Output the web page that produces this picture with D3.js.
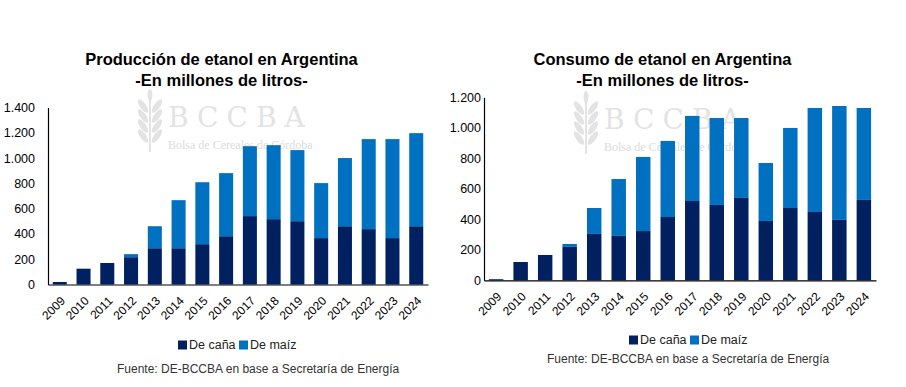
<!DOCTYPE html>
<html>
<head>
<meta charset="utf-8">
<script src="https://cdn.jsdelivr.net/npm/d3@7/dist/d3.min.js"></script>
<style>
  body { margin: 0; background: #fff; }
  svg { display: block; font-family: "Liberation Sans", Arial, sans-serif; }
</style>
</head>
<body>
<div id="chart"></div>
<script>
// datos (millones de litros)
var years = ['2009','2010','2011','2012','2013','2014','2015','2016','2017','2018','2019','2020','2021','2022','2023','2024'];
var prodCana = [20, 125, 170, 216, 287, 287, 319, 382, 541, 517, 501, 367, 461, 438, 367, 461];
var prodMaiz = [0, 0, 0, 24, 174, 380, 490, 499, 553, 585, 562, 435, 539, 712, 783, 736];
var consCana = [7, 120, 166, 219, 304, 291, 323, 415, 520, 494, 540, 389, 474, 448, 396, 527];
var consMaiz = [0, 0, 0, 19, 170, 373, 486, 499, 558, 570, 524, 380, 525, 682, 747, 603];
var prodTicks = [0, 200, 400, 600, 800, 1000, 1200, 1400];
var consTicks = [0, 200, 400, 600, 800, 1000, 1200];
var seriesNames = ['De caña', 'De maíz'];
var colors = ['#002060', '#0070C0'];

var width = 906, height = 387;
var svg = d3.select('#chart').append('svg').attr('width', width).attr('height', height);

var locale = d3.formatLocale({decimal: ',', thousands: '.', grouping: [3], currency: ['$', '']});
var fmt = locale.format(',d');

// marca de agua BCCBA
function watermark(g, x, y) {
  var wm = g.append('g').attr('transform', 'translate(' + x + ',' + y + ')').attr('fill', '#e3e3e3');
  wm.append('line').attr('x1', 14).attr('y1', 60).attr('x2', 14).attr('y2', 4)
    .attr('stroke', '#e3e3e3').attr('stroke-width', 2);
  [8, 18, 28, 38].forEach(function(dy) {
    wm.append('ellipse').attr('cx', 7).attr('cy', dy + 6).attr('rx', 3).attr('ry', 8)
      .attr('transform', 'rotate(-35,7,' + (dy + 6) + ')');
    wm.append('ellipse').attr('cx', 21).attr('cy', dy + 6).attr('rx', 3).attr('ry', 8)
      .attr('transform', 'rotate(35,21,' + (dy + 6) + ')');
  });
  wm.append('ellipse').attr('cx', 14).attr('cy', 3).attr('rx', 2.5).attr('ry', 6);
  wm.append('text').attr('x', 32).attr('y', 35).attr('font-family', '"DejaVu Serif", "Liberation Serif", serif')
    .attr('font-size', 28).attr('letter-spacing', 8).text('BCCBA');
  wm.append('text').attr('x', 32).attr('y', 57).attr('font-family', '"Liberation Serif", serif')
    .attr('font-size', 12).attr('fill', '#dcdcdc').text('Bolsa de Cereales de Córdoba');
}

function drawChart(o) {
  var g = svg.append('g');
  watermark(g, o.wmX, o.wmY);

  var x = d3.scaleBand().domain(years).range(o.xRange).paddingInner(0.41).paddingOuter(0.2);
  var y = d3.scaleLinear().domain([0, o.ticks[o.ticks.length - 1]]).range(o.yRange);

  var rows = years.map(function(yr, i) {
    return {year: yr, cana: o.cana[i], maiz: o.maiz[i]};
  });
  var stacked = d3.stack().keys(['cana', 'maiz'])(rows);

  g.selectAll('g.serie')
    .data(stacked)
    .enter()
    .append('g')
    .attr('fill', function(d, i) { return colors[i]; })
    .selectAll('rect')
    .data(function(d) { return d; })
    .enter()
    .append('rect')
    .attr('x', function(d) { return x(d.data.year); })
    .attr('width', x.bandwidth())
    .attr('y', function(d) { return y(d[1]); })
    .attr('height', function(d) { return y(d[0]) - y(d[1]); });

  // eje y
  var yAxis = g.append('g').attr('transform', 'translate(' + o.xRange[0] + ',0)')
    .call(d3.axisLeft(y).tickValues(o.ticks).tickFormat(fmt).tickSize(0).tickPadding(o.tickPad));
  yAxis.select('.domain').attr('stroke', '#000').attr('stroke-width', 1.2);
  yAxis.selectAll('text').attr('font-size', 12.5).attr('fill', '#000');

  // eje x
  var xAxis = g.append('g').attr('transform', 'translate(0,' + o.yRange[0] + ')')
    .call(d3.axisBottom(x).tickSize(0).tickSizeOuter(0));
  xAxis.select('.domain').attr('stroke', '#000').attr('stroke-width', 1.2);
  xAxis.selectAll('text')
    .attr('font-size', 12)
    .attr('fill', '#000')
    .attr('text-anchor', 'end')
    .attr('dy', '0.35em')
    .attr('transform', 'translate(1,12) rotate(-45)');

  // titulo
  var t = g.append('text').attr('text-anchor', 'middle').attr('font-weight', 'bold')
    .attr('font-size', 16.5).attr('fill', '#000');
  t.append('tspan').attr('x', o.titleX).attr('y', o.titleY).text(o.title);
  t.append('tspan').attr('x', o.titleX).attr('y', o.titleY + 21).text('-En millones de litros-');

  // leyenda
  var leg = g.append('g').attr('transform', 'translate(' + o.legX + ',' + o.legY + ')');
  seriesNames.forEach(function(name, i) {
    var lx = i * 61;
    leg.append('rect').attr('x', lx).attr('y', -4.5).attr('width', 9).attr('height', 9).attr('fill', colors[i]);
    leg.append('text').attr('x', lx + 11).attr('y', 0).attr('dy', '0.35em')
      .attr('font-size', 12.5).attr('fill', '#222').text(name);
  });

  g.append('text').attr('x', o.srcX).attr('y', o.srcY).attr('dy', '0.35em')
    .attr('font-size', 12).attr('fill', '#333')
    .text('Fuente: DE-BCCBA en base a Secretaría de Energía');
}

drawChart({
  title: 'Producción de etanol en Argentina',
  cana: prodCana, maiz: prodMaiz, ticks: prodTicks,
  xRange: [48, 428], yRange: [284.5, 107.5], tickPad: 13,
  titleX: 221.5, titleY: 65,
  legX: 178, legY: 345, srcX: 117, srcY: 369,
  wmX: 136, wmY: 92
});

drawChart({
  title: 'Consumo de etanol en Argentina',
  cana: consCana, maiz: consMaiz, ticks: consTicks,
  xRange: [484, 876], yRange: [280.3, 97.3], tickPad: 3,
  titleX: 662.5, titleY: 65,
  legX: 629, legY: 340, srcX: 547, srcY: 359,
  wmX: 572, wmY: 94
});
</script>
</body>
</html>
